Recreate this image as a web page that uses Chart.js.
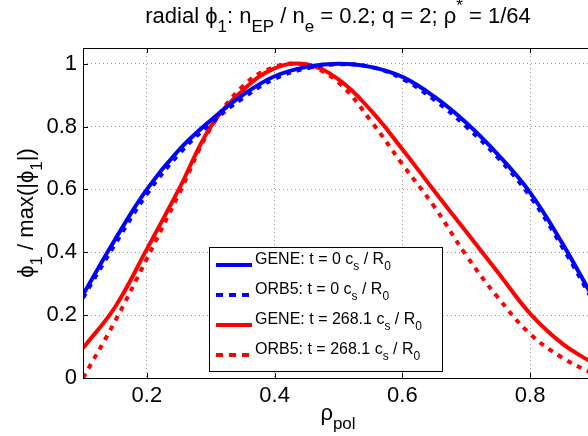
<!DOCTYPE html>
<html>
<head>
<meta charset="utf-8">
<script src="https://cdn.jsdelivr.net/npm/chart.js@4.4.1/dist/chart.umd.min.js"></script>
<style>
  html, body { margin: 0; padding: 0; background: #fff; overflow: hidden; }
  #wrap { width: 600px; height: 436px; }
</style>
</head>
<body>
<div id="wrap"><canvas id="phiChart" width="600" height="436"></canvas></div>
<script>
// rho_pol grid and normalised radial phi_1 profiles
const rho      = [0.10, 0.15, 0.20, 0.25, 0.30, 0.35, 0.40, 0.45, 0.50, 0.55, 0.60, 0.65, 0.70, 0.75, 0.80, 0.85, 0.90];
const geneT0   = [0.265, 0.44, 0.60, 0.725, 0.82, 0.90, 0.96, 0.99, 1.0, 0.99, 0.958, 0.895, 0.812, 0.71, 0.59, 0.43, 0.25];
const orb5T0   = [0.255, 0.425, 0.585, 0.712, 0.81, 0.89, 0.952, 0.985, 0.998, 0.99, 0.952, 0.885, 0.80, 0.70, 0.578, 0.418, 0.24];
const geneT268 = [0.095, 0.225, 0.41, 0.60, 0.80, 0.915, 0.985, 0.998, 0.95, 0.853, 0.728, 0.595, 0.465, 0.335, 0.205, 0.11, 0.045];
const orb5T268 = [0.0, 0.18, 0.38, 0.585, 0.795, 0.928, 0.99, 0.995, 0.94, 0.82, 0.68, 0.545, 0.39, 0.255, 0.14, 0.065, 0.012];

const xTicks = [0.2, 0.4, 0.6, 0.8];
const xTickLabels = ['0.2', '0.4', '0.6', '0.8'];
const yTicks = [0, 0.2, 0.4, 0.6, 0.8, 1];
const yTickLabels = ['0', '0.2', '0.4', '0.6', '0.8', '1'];

const FONT = '"Liberation Sans", Arial, Helvetica, sans-serif';
const BLUE = '#0000ff';
const RED = '#ff0000';

// text with sub/superscripts: parts = [[text, 0 normal | 1 sub | 2 sup], ...]
function richWidth(ctx, parts, size) {
  let w = 0;
  parts.forEach(p => {
    ctx.font = (p[1] ? Math.round(size * 0.75) : size) + 'px ' + FONT;
    w += ctx.measureText(p[0]).width;
  });
  return w;
}
function drawRich(ctx, parts, x, y, size, centered) {
  let cx = centered ? x - richWidth(ctx, parts, size) / 2 : x;
  ctx.textAlign = 'left';
  ctx.textBaseline = 'alphabetic';
  ctx.fillStyle = '#000';
  parts.forEach(p => {
    ctx.font = (p[1] ? Math.round(size * 0.75) : size) + 'px ' + FONT;
    let dy = 0;
    if (p[1] === 1) dy = size * 0.42;
    if (p[1] === 2) dy = -size * 0.55;
    ctx.fillText(p[0], cx, y + dy);
    cx += ctx.measureText(p[0]).width;
  });
}

const legendItems = [
  { color: BLUE, dash: [], parts: [['GENE: t = 0 c', 0], ['s', 1], [' / R', 0], ['0', 1]] },
  { color: BLUE, dash: [7, 6], parts: [['ORB5: t = 0 c', 0], ['s', 1], [' / R', 0], ['0', 1]] },
  { color: RED, dash: [], parts: [['GENE: t = 268.1 c', 0], ['s', 1], [' / R', 0], ['0', 1]] },
  { color: RED, dash: [7, 6], parts: [['ORB5: t = 268.1 c', 0], ['s', 1], [' / R', 0], ['0', 1]] }
];

const decorations = {
  id: 'decorations',
  afterDatasetsDraw(chart) {
    const ctx = chart.ctx;
    const a = chart.chartArea;
    const xs = chart.scales.x, ys = chart.scales.y;
    ctx.save();
    // axes box
    ctx.strokeStyle = '#000';
    ctx.lineWidth = 1;
    ctx.setLineDash([]);
    ctx.strokeRect(Math.round(a.left) + 0.5, Math.round(a.top) + 0.5,
      Math.round(a.right - a.left), Math.round(a.bottom - a.top));
    // inward ticks
    ctx.beginPath();
    xTicks.forEach(v => {
      const px = Math.round(xs.getPixelForValue(v)) + 0.5;
      ctx.moveTo(px, a.bottom); ctx.lineTo(px, a.bottom - 5);
      ctx.moveTo(px, a.top); ctx.lineTo(px, a.top + 5);
    });
    yTicks.forEach(v => {
      const py = Math.round(ys.getPixelForValue(v)) + 0.5;
      ctx.moveTo(a.left, py); ctx.lineTo(a.left + 5, py);
      ctx.moveTo(a.right, py); ctx.lineTo(a.right - 5, py);
    });
    ctx.stroke();

    // legend
    const lx = 209.5, ly = 247.5, lw = 233, lh = 124;
    ctx.fillStyle = '#fff';
    ctx.fillRect(lx, ly, lw, lh);
    ctx.strokeStyle = '#000';
    ctx.lineWidth = 1;
    ctx.strokeRect(lx, ly, lw, lh);
    legendItems.forEach((it, i) => {
      const base = 263.5 + i * 30;
      ctx.beginPath();
      ctx.strokeStyle = it.color;
      ctx.lineWidth = 4;
      ctx.lineCap = 'butt';
      ctx.setLineDash(it.dash);
      ctx.moveTo(216, base + 1.5);
      ctx.lineTo(252, base + 1.5);
      ctx.stroke();
      ctx.setLineDash([]);
      drawRich(ctx, it.parts, 255, base, 16, false);
    });

    // title and axis labels
    drawRich(ctx, [['radial \u03d5', 0], ['1', 1], [': n', 0], ['EP', 1], [' / n', 0], ['e', 1],
      [' = 0.2; q = 2; \u03c1', 0], ['*', 2], [' = 1/64', 0]], 338, 23, 22, true);
    drawRich(ctx, [['\u03c1', 0], ['pol', 1]], 338, 420, 22, true);
    ctx.translate(33, 213);
    ctx.rotate(-Math.PI / 2);
    drawRich(ctx, [['\u03d5', 0], ['1', 1], [' / max(|\u03d5', 0], ['1', 1], ['|)', 0]], 0, 0, 22, true);
    ctx.restore();
  }
};

const toPoints = vals => rho.map((x, i) => ({ x: x, y: vals[i] }));
const lineSet = (label, vals, color, dash) => ({
  label: label,
  data: toPoints(vals),
  borderColor: color,
  backgroundColor: color,
  borderWidth: 4,
  borderDash: dash,
  borderCapStyle: 'butt',
  pointRadius: 0,
  tension: 0.4,
  fill: false
});

const gridOpts = { color: '#9c9c9c', lineWidth: 1, drawTicks: false };
const tickFont = { family: FONT, size: 22 };

new Chart(document.getElementById('phiChart'), {
  type: 'line',
  data: {
    datasets: [
      lineSet('GENE: t = 0', geneT0, BLUE, []),
      lineSet('ORB5: t = 0', orb5T0, BLUE, [5, 6]),
      lineSet('GENE: t = 268.1', geneT268, RED, []),
      lineSet('ORB5: t = 268.1', orb5T268, RED, [5, 6])
    ]
  },
  options: {
    responsive: false,
    animation: false,
    devicePixelRatio: 1,
    layout: { padding: { left: 0, right: 6, top: 48, bottom: 0 } },
    plugins: { legend: { display: false }, tooltip: { enabled: false }, title: { display: false } },
    scales: {
      x: {
        type: 'linear', min: 0.1, max: 0.9,
        afterBuildTicks: s => { s.ticks = xTicks.map(v => ({ value: v })); },
        afterFit: s => { s.height = 58; },
        ticks: { callback: (v, i) => xTickLabels[i], font: tickFont, color: '#000', padding: 5, maxRotation: 0, autoSkip: false },
        grid: gridOpts,
        border: { display: false, dash: [1, 3] }
      },
      y: {
        min: 0, max: 1.05,
        afterBuildTicks: s => { s.ticks = yTicks.map(v => ({ value: v })); },
        afterFit: s => { s.width = 83; },
        ticks: { callback: (v, i) => yTickLabels[i], font: tickFont, color: '#000', padding: 6, autoSkip: false },
        grid: gridOpts,
        border: { display: false, dash: [1, 3] }
      }
    }
  },
  plugins: [decorations]
});
</script>
</body>
</html>
